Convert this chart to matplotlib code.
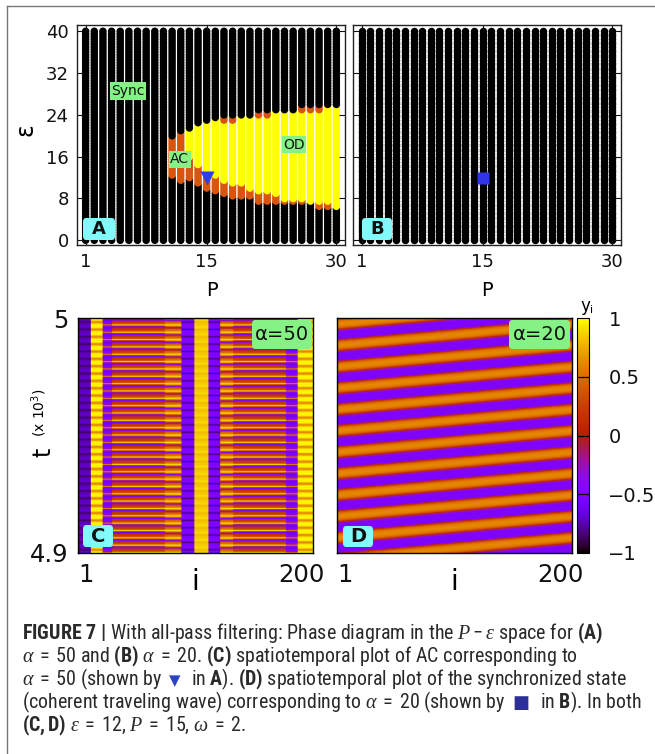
import numpy as np
import matplotlib
matplotlib.use("Agg")
import matplotlib.pyplot as plt
from matplotlib import font_manager
from matplotlib.patches import FancyBboxPatch
from matplotlib.lines import Line2D
from matplotlib.transforms import ScaledTranslation

nan = np.nan
W, H = 655, 754

# ---------------- data ----------------
# (A) phase diagram, alpha = 50 : columns P = 1..30, rows eps = 0..40
p_values = np.arange(1, 31)
eps_values = np.arange(0, 40.5, 0.5)
# per column: top / bottom of the coloured (non-sync) region and of the OD part
region_top = [nan] * 10 + [19.5, 20.5, 21.0, 22.0, 22.5, 23.0, 23.5, 23.5, 23.5, 23.5,
                           24.5, 24.5, 24.5, 24.5, 24.5, 25.5, 25.5, 25.5, 25.5, 25.5]
od_top = [nan] * 10 + [nan, nan, 21.0, 22.0, 22.5, 23.0, 22.5, 22.5, 23.5, 23.5,
                       23.5, 23.5, 24.5, 24.5, 24.5, 24.5, 24.5, 24.5, 25.5, 25.5]
od_bottom = [nan] * 10 + [nan, nan, 16.0, 14.5, 13.5, 12.5, 11.5, 11.0, 11.0, 10.0,
                          9.5, 9.5, 9.0, 8.0, 8.0, 8.0, 7.5, 7.5, 7.5, 6.5]
region_bottom = [nan] * 10 + [12.5, 11.5, 12.0, 11.0, 10.0, 9.5, 9.0, 8.5, 8.5, 8.5,
                              7.5, 7.5, 7.5, 7.5, 7.5, 7.5, 7.5, 6.5, 6.5, 6.5]
mark_p, mark_eps = 15, 12

# (C) spatiotemporal plot, alpha = 50 : bands of sites, one period profile each
c_bounds = [1, 12, 22, 30, 75, 89, 100, 112, 122, 133, 178, 188, 201]
c_kinds = ['deep', 'hot', 'edge_v', 'mixed', 'edge_o', 'cold',
           'solid', 'cold', 'edge_o', 'mixed', 'edge_v', 'hot']
c_profiles = {
    'deep':   [-0.72, -0.75, -0.78, -0.88, -0.80, -0.74, -0.68, -0.72],
    'hot':    [1.00, 0.90, 0.72, 0.60, 0.72, 0.92, 1.00, 0.95],
    'edge_v': [0.60, -0.20, -0.45, -0.50, -0.55, -0.62, -0.50, -0.30],
    'mixed':  [0.90, 0.45, 0.25, 0.20, 0.15, -0.40, -0.55, 0.30],
    'edge_o': [0.92, 0.65, 0.50, 0.45, 0.20, -0.50, 0.30, 0.70],
    'cold':   [-0.50, -0.50, -0.60, -0.85, -0.65, -0.50, -0.45, -0.50],
    'solid':  [0.85, 0.85, 0.82, 0.80, 0.84, 0.88, 0.90, 0.86],
}
c_periods = 32

# (D) coherent travelling wave, alpha = 20 : one period profile
d_profile = [-0.50, -0.50, -0.50, -0.50, -0.50, -0.50, -0.30, 0.10,
             0.40, 0.55, 0.60, 0.62, 0.60, 0.55, 0.40, 0.10]
d_periods = 11
d_sub = 4
sites = np.arange(1, 201)

sync_color, ac_color, od_color = '#000000', '#d9540c', '#ffff00'
green, cyan = '#86f286', '#80fafa'

# ---------------- fonts ----------------
names = {f.name for f in font_manager.fontManager.ttflist}
cap_family = 'Liberation Sans'
for cand in ['Liberation Sans Narrow', 'Roboto Condensed', 'Open Sans Condensed',
             'Noto Sans Condensed', 'Arial Narrow']:
    if cand in names:
        cap_family = cand
        break
plt.rcParams['font.family'] = ['DejaVu Sans']
plt.rcParams['mathtext.fontset'] = 'custom'
plt.rcParams['mathtext.rm'] = cap_family
plt.rcParams['mathtext.bf'] = cap_family + ':bold'
plt.rcParams['mathtext.it'] = 'Liberation Serif:italic'

fig = plt.figure(figsize=(W / 100, H / 100), dpi=100)


def px_box(x, y, w, h):
    return [x / W, 1 - (y + h) / H, w / W, h / H]


axA = fig.add_axes(px_box(77, 25, 268, 220))
axB = fig.add_axes(px_box(353, 25, 268, 220))
axC = fig.add_axes(px_box(78, 318, 235, 235))
axD = fig.add_axes(px_box(337, 318, 235, 235))
cax = fig.add_axes(px_box(577, 318, 12, 235))

# ---------------- A and B ----------------
PP, EE = np.meshgrid(p_values, eps_values, indexing='ij')
colorsA = []
for k, p in enumerate(p_values):
    for e in eps_values:
        if np.isnan(region_top[k]) or e > region_top[k] or e < region_bottom[k]:
            colorsA.append(sync_color)
        elif not np.isnan(od_top[k]) and od_bottom[k] <= e <= od_top[k]:
            colorsA.append(od_color)
        else:
            colorsA.append(ac_color)

axA.scatter(PP.ravel(), EE.ravel(), s=29, c=colorsA, linewidths=0)
axB.scatter(PP.ravel(), EE.ravel(), s=29, c=sync_color, linewidths=0)
axA.plot(mark_p, mark_eps, marker='v', ms=10, color='#2f3fe8', mec='none')
axB.plot(mark_p, mark_eps, marker='s', ms=8.5, color='#3036e6', mec='none')

for ax in (axA, axB):
    ax.set_xlim(0, 31)
    ax.set_ylim(-0.9, 41.2)
    ax.set_xticks([1, 15, 30])
    ax.set_yticks([0, 8, 16, 24, 32, 40])
    ax.tick_params(direction='in', length=4, width=0.8, top=True, right=True,
                   labelsize=13, pad=6, colors='#111111')
    for sp in ax.spines.values():
        sp.set_linewidth(1.0)
        sp.set_color('#222222')
axB.tick_params(labelleft=False)

lab = dict(ha='center', va='center', fontsize=10, color='#111111')
axA.text(5.9, 28.6, 'Sync', bbox=dict(boxstyle='square,pad=0.12', fc=green, ec='none'), **lab)
axA.text(11.9, 15.5, 'AC', bbox=dict(boxstyle='square,pad=0.12', fc=green, ec='none'), **lab)
axA.text(25.1, 18.3, 'OD', bbox=dict(boxstyle='square,pad=0.12', fc=green, ec='none'), **lab)

fig.text(25 / W, 1 - 130 / H, 'ε', rotation=90, ha='center', va='center', fontsize=17)
fig.text(212 / W, 1 - 290 / H, 'P', ha='center', va='center', fontsize=14)
fig.text(487 / W, 1 - 290 / H, 'P', ha='center', va='center', fontsize=14)

# ---------------- C and D ----------------
c_field = np.zeros((c_periods * 8, len(sites)))
for j, i in enumerate(sites):
    seg = np.searchsorted(c_bounds, i, side='right') - 1
    c_field[:, j] = np.tile(c_profiles[c_kinds[seg]], c_periods)

L = len(d_profile) * d_sub
rows = np.arange(d_periods * L)
shift = np.round((sites - 1) * L / 200).astype(int)
d_field = np.array(d_profile)[((rows[:, None] - shift[None, :]) % L) // d_sub]

imC = axC.imshow(c_field, cmap='gnuplot', vmin=-1, vmax=1, origin='lower', aspect='auto',
                 extent=[1, 200, 4.9, 5.0], interpolation='bilinear')
imD = axD.imshow(d_field, cmap='gnuplot', vmin=-1, vmax=1, origin='lower', aspect='auto',
                 extent=[1, 200, 4.9, 5.0], interpolation='bilinear')

for ax in (axC, axD):
    ax.set_xticks([1, 200])
    ax.set_xticklabels(['1', '200'])
    ax.tick_params(length=0, labelsize=17.5, pad=7, colors='#111111')
    for sp in ax.spines.values():
        sp.set_linewidth(1.0)
    xl = ax.get_xticklabels()
    xl[0].set_transform(xl[0].get_transform() + ScaledTranslation(8 / 100, 0, fig.dpi_scale_trans))
    xl[1].set_transform(xl[1].get_transform() + ScaledTranslation(-12 / 100, 0, fig.dpi_scale_trans))
    bb = ax.get_position()
    fig.text((bb.x0 + bb.x1) / 2, 1 - 590 / H, 'i', ha='center', va='baseline', fontsize=20)
axC.set_yticks([4.9, 5.0])
axC.set_yticklabels(['4.9', '5'])
axD.set_yticks([])

fig.text(43 / W, 1 - 452 / H, 't', rotation=90, ha='center', va='center', fontsize=17)
fig.text(39 / W, 1 - 413 / H, r'(x 10$^3$)', rotation=90, ha='center', va='center',
         fontsize=10, math_fontfamily='dejavusans')

cb = fig.colorbar(imD, cax=cax)
cb.set_ticks([-1, -0.5, 0, 0.5, 1])
cb.set_ticklabels(['−1', '−0.5', '0', '0.5', '1'])
cax.tick_params(length=0, labelsize=14, pad=14, colors='#111111')
cb.outline.set_linewidth(0.8)
for v in (-0.5, 0, 0.5):
    cax.axhline(v, color='black', lw=0.9)
fig.text(585 / W, 1 - 306 / H, 'y', ha='center', va='center', fontsize=12)
fig.text(592 / W, 1 - 310 / H, 'i', ha='center', va='center', fontsize=8)


def fig_box(x0, y0, x1, y1, text, fc, size, bold=False):
    patch = FancyBboxPatch((x0 / W, 1 - y1 / H), (x1 - x0) / W, (y1 - y0) / H,
                           boxstyle='round,pad=0,rounding_size=0.005',
                           transform=fig.transFigure, fc=fc, ec='none', zorder=5)
    fig.add_artist(patch)
    fig.text((x0 + x1) / 2 / W, 1 - (y0 + y1) / 2 / H, text, ha='center', va='center',
             fontsize=size, fontweight='bold' if bold else 'normal', color='#111111', zorder=6)


fig_box(83, 218, 115, 240, 'A', cyan, 13, bold=True)
fig_box(362, 218, 392, 240, 'B', cyan, 13, bold=True)
fig_box(83, 525, 113, 547, 'C', cyan, 14, bold=True)
fig_box(343, 526, 373, 547, 'D', cyan, 14, bold=True)
fig_box(252, 320, 312, 349, 'α=50', green, 14)
fig_box(509, 320, 570, 349, 'α=20', green, 14)

# frame lines
fig.add_artist(Line2D([7 / W, 7 / W], [0, 1 - 6 / H], transform=fig.transFigure, color='#777777', lw=1.0))
fig.add_artist(Line2D([7 / W, 1], [1 - 6 / H, 1 - 6 / H], transform=fig.transFigure, color='#777777', lw=1.0))

# ---------------- caption ----------------
cap_color = '#2a2a2a'
lines = [
    [(r'$\mathbf{FIGURE\ 7\ |}$ With all-pass filtering: Phase diagram in the '
      r'$P - \varepsilon$ space for $\mathbf{(A)}$', 'n', 0)],
    [(r'$\alpha\;=\;50$ and $\mathbf{(B)}$ $\alpha\;=\;20$. $\mathbf{(C)}$ spatiotemporal plot of AC corresponding to', 'n', 0)],
    [(r'$\alpha\;=\;50$ (shown by', 'n', 7), ('▼', 'tri', 10),
     (r'in $\mathbf{A}$). $\mathbf{(D)}$ spatiotemporal plot of the synchronized state', 'n', 0)],
    [(r'(coherent traveling wave) corresponding to $\alpha\;=\;20$ (shown by', 'n', 7), ('■', 'sq', 10),
     (r'in $\mathbf{B}$). In both', 'n', 0)],
    [(r'$\mathbf{(C,D)}$ $\varepsilon\;=\;12$, $P\;=\;15$, $\omega\;=\;2$.', 'n', 0)],
]
baselines = [639, 662, 685, 708, 731]
x_start = 22
line_ends = {0: 630, 2: 632, 3: 644}

renderer = fig.canvas.get_renderer()


def kwargs_for(kind, size):
    kw = dict(fontsize=size, color=cap_color, family=cap_family)
    if kind == 'tri':
        kw.update(family='DejaVu Sans', color='#2b44c4', fontsize=size * 0.75)
    elif kind == 'sq':
        kw.update(family='DejaVu Sans', color='#2b2f96', fontsize=size * 0.9)
    return kw


def line_width(pieces, size):
    w = 0
    for s, kind, gap in pieces:
        t = fig.text(0, 0, s, **kwargs_for(kind, size))
        w += t.get_window_extent(renderer).width + gap
        t.remove()
    return w


cap_size = min(12 * (line_ends[k] - x_start) / line_width(lines[k], 12) for k in line_ends)

for y, pieces in zip(baselines, lines):
    x = x_start
    for s, kind, gap in pieces:
        t = fig.text(x / W, 1 - y / H, s, ha='left', va='baseline', **kwargs_for(kind, cap_size))
        x += t.get_window_extent(renderer).width + gap

fig.savefig('out.png', dpi=100)
